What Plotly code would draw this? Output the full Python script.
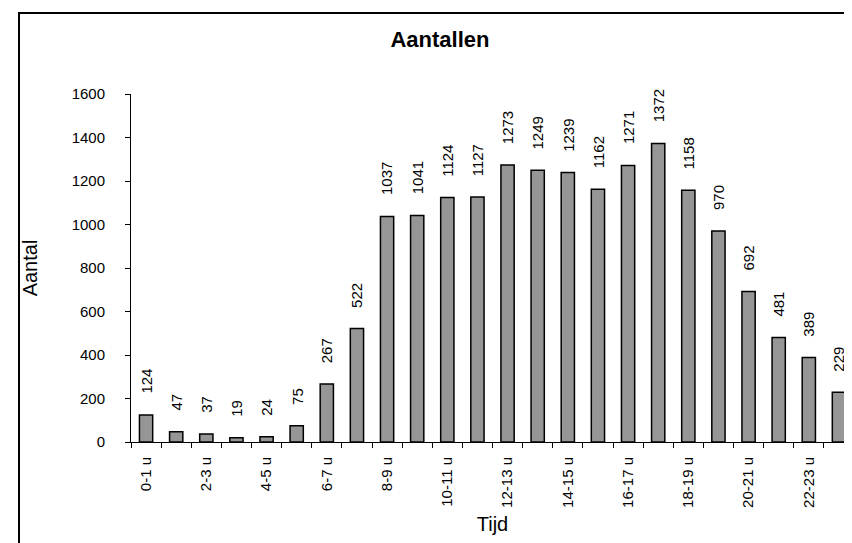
import plotly.graph_objects as go

categories = [f"{h}-{h+1} u" for h in range(24)]
values = [124, 47, 37, 19, 24, 75, 267, 522, 1037, 1041, 1124, 1127,
          1273, 1249, 1239, 1162, 1271, 1372, 1158, 970, 692, 481, 389, 229]
tick_labels = [c if i % 2 == 0 else "" for i, c in enumerate(categories)]

FONT = "Liberation Sans, Arial, sans-serif"

fig = go.Figure(go.Bar(
    x=categories, y=values,
    marker=dict(color="#969696", line=dict(color="black", width=1.5)),
    hoverinfo="x+y",
))

for c, v in zip(categories, values):
    fig.add_annotation(x=c, y=v, text=str(v), textangle=-90, showarrow=False,
                       xanchor="center", yanchor="bottom", yshift=19,
                       font=dict(family=FONT, size=15, color="black"))

fig.update_layout(
    width=852, height=543,
    margin=dict(l=123, r=6, t=86, b=109),
    paper_bgcolor="white", plot_bgcolor="white",
    bargap=0.56,
    showlegend=False,
    font=dict(family=FONT, color="black"),
    title=dict(text="<b>Aantallen</b>", x=432/852, xref="container", xanchor="center",
               y=1 - 31/543, yref="container", yanchor="middle",
               font=dict(family=FONT, size=22, color="black")),
    xaxis=dict(type="category", tickmode="array", tickvals=categories, ticktext=tick_labels,
               tickson="boundaries", ticks="outside", ticklen=5, tickcolor="black",
               ticklabelstandoff=8,
               tickangle=-90, tickfont=dict(family=FONT, size=15, color="black"),
               showline=True, linecolor="black", linewidth=1, showgrid=False,
               title=dict(text="Tijd", font=dict(family=FONT, size=20, color="black"), standoff=10)),
    yaxis=dict(range=[0, 1600], tickmode="linear", tick0=0, dtick=200,
               ticks="outside", ticklen=5, tickcolor="black", ticklabelstandoff=17,
               tickfont=dict(family=FONT, size=15, color="black"),
               showline=True, linecolor="black", linewidth=1, showgrid=False, zeroline=False,
               title=dict(text="Aantal", font=dict(family=FONT, size=20, color="black"), standoff=28)),
)

fig.add_shape(type="rect", xref="paper", yref="paper",
              x0=-(123 - 11) / 723, x1=1.1, y0=-0.5, y1=1 + (86 - 5) / 348,
              line=dict(color="black", width=2), fillcolor="rgba(0,0,0,0)", layer="below")

fig.write_html("out.html")
